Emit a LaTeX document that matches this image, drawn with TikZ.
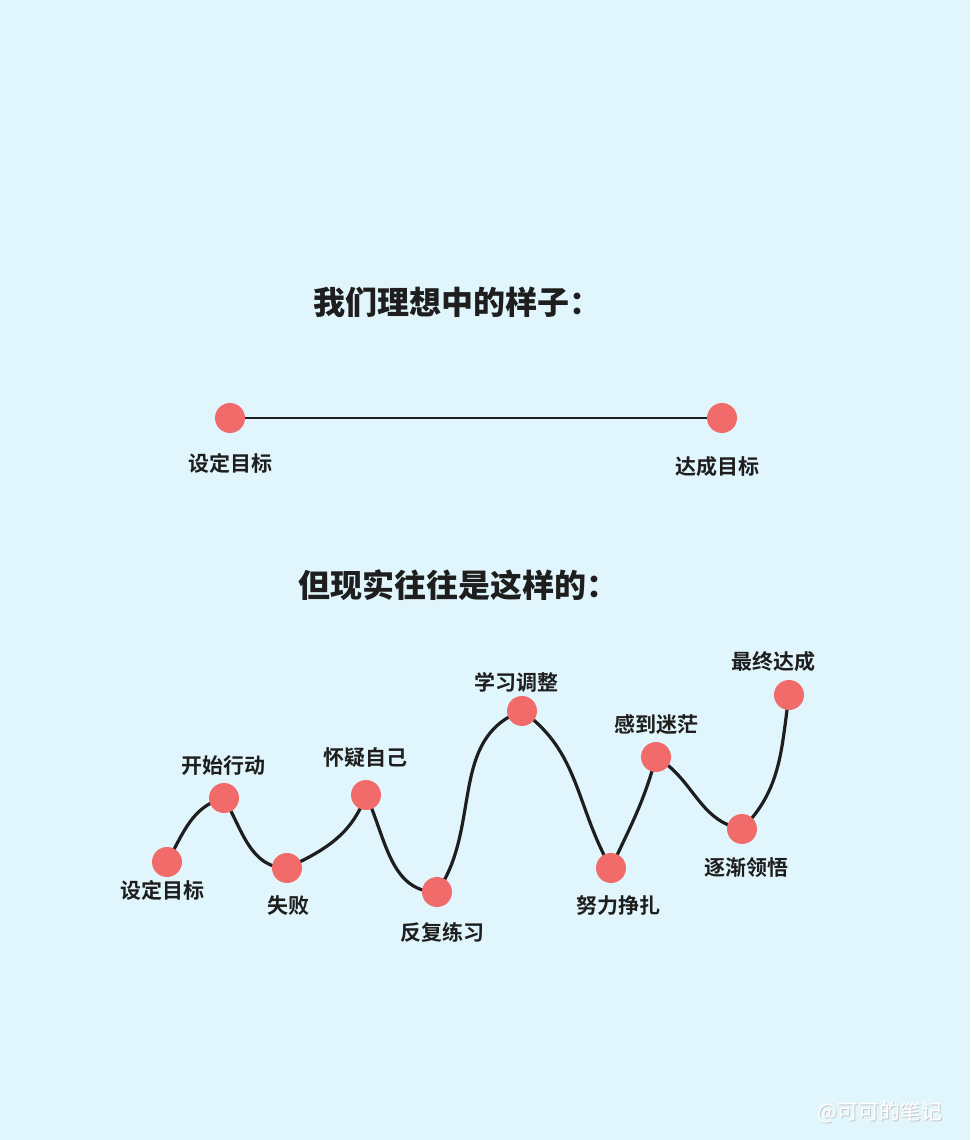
\documentclass[tikz,border=0pt]{standalone}
\usepackage{fontspec}
\newfontfamily\cjk{Noto Sans CJK SC}[BoldFont={Noto Sans CJK SC Bold}]
\newfontfamily\cjkblack{Noto Sans CJK SC Black}
\definecolor{bgc}{HTML}{E1F6FC}
\definecolor{dotc}{HTML}{F26B6B}
\definecolor{txt}{HTML}{1E1E1E}
\tikzset{
  dotnode/.style={circle,fill=dotc,minimum size=30pt,inner sep=0pt},
  lbl/.style={font=\cjk\bfseries\fontsize{21}{23}\selectfont,text=txt,inner sep=0pt},
  ttl/.style={font=\cjkblack\fontsize{32}{36}\selectfont,text=txt,inner sep=0pt},
  curve/.style={line width=3.2pt,txt},
  wmtext/.style={font=\cjk\fontsize{21}{24}\selectfont,inner sep=0pt},
}
\begin{document}
\begin{tikzpicture}[x=1pt,y=1pt]
\fill[bgc] (0,0) rectangle (970,1140);
\useasboundingbox (0,0) rectangle (970,1140);
% ideal
\node[ttl] (t1) at (457,838) {我们理想中的样子：};
\node[dotnode] (a1) at (230,722) {};
\node[dotnode] (a2) at (722,722) {};
\draw[line width=2pt,txt] (a1) -- (a2);
\node[lbl] (la1) at (230,677) {设定目标};
\node[lbl] (la2) at (717,673) {达成目标};
% reality
\node[ttl] (t2) at (458,555) {但现实往往是这样的：};
\coordinate (c1) at (167,278);
\coordinate (c2) at (224,342);
\coordinate (c3) at (287,272);
\coordinate (c4) at (366,345);
\coordinate (c5) at (437,248);
\coordinate (c6) at (522,429);
\coordinate (c7) at (611,272);
\coordinate (c8) at (656,383);
\coordinate (c9) at (742,311);
\coordinate (c10) at (789,445);
\draw[curve] (c1) to[out=60,in=195] (c2)
  to[out=-60,in=180] (c3)
  to[out=25,in=250] (c4)
  to[out=-65,in=180] (c5)
  to[out=55,in=200] (c6)
  to[out=-35,in=120] (c7)
  to[out=65,in=255] (c8)
  to[out=-30,in=170] (c9)
  to[out=45,in=262] (c10);
\foreach \i in {1,...,10}
  \node[dotnode] (p\i) at (c\i) {};
\node[lbl] (l1) at (162,250) {设定目标};
\node[lbl] (l2) at (223,374) {开始行动};
\node[lbl] (l3) at (288,234) {失败};
\node[lbl] (l4) at (365,382) {怀疑自己};
\node[lbl] (l5) at (442,208) {反复练习};
\node[lbl] (l6) at (516,458) {学习调整};
\node[lbl] (l7) at (618,234) {努力挣扎};
\node[lbl] (l8) at (656,415) {感到迷茫};
\node[lbl] (l9) at (746,272) {逐渐领悟};
\node[lbl] (l10) at (773,478) {最终达成};
% watermark
\node[wmtext,text=black!22] (wms) at (881,27) {@可可的笔记};
\node[wmtext,text=white] (wm) at (880,28) {@可可的笔记};
\end{tikzpicture}
\end{document}
